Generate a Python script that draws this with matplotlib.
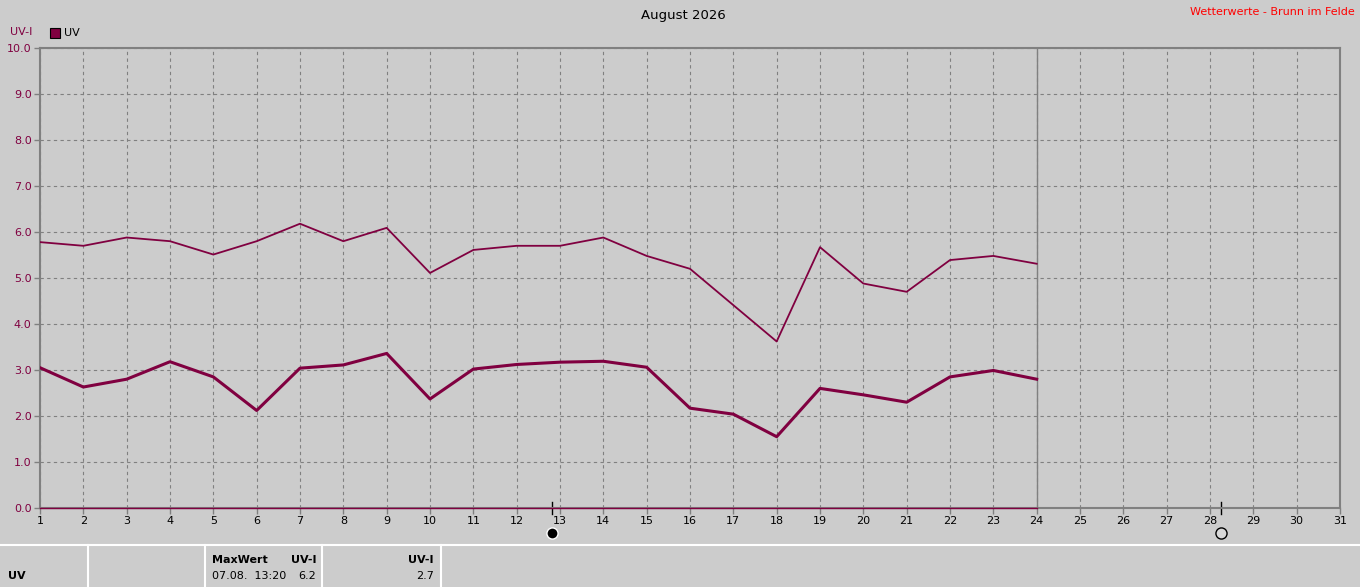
import matplotlib.pyplot as plt
from matplotlib.lines import Line2D
import matplotlib.transforms as mtransforms

# Tageswerte UV-Index August 2026
days = list(range(1, 25))
uv_max = [5.78, 5.70, 5.88, 5.80, 5.51, 5.80, 6.18, 5.80, 6.09, 5.11, 5.61, 5.70,
          5.70, 5.88, 5.48, 5.20, 4.41, 3.62, 5.67, 4.88, 4.70, 5.39, 5.48, 5.31]
uv_avg = [3.05, 2.63, 2.80, 3.18, 2.85, 2.12, 3.04, 3.11, 3.36, 2.37, 3.02, 3.12,
          3.17, 3.19, 3.06, 2.17, 2.04, 1.55, 2.60, 2.46, 2.30, 2.85, 2.99, 2.80]
uv_min = [0.0] * 24
month_days = list(range(1, 32))
y_ticks = [0, 1, 2, 3, 4, 5, 6, 7, 8, 9, 10]
today = 24
new_moon = 12.82
full_moon = 28.26

BG = '#cccccc'
DARKRED = '#800040'
GRAY = '#808080'

W, H = 1360, 587
fig = plt.figure(figsize=(W / 100, H / 100), dpi=100, facecolor=BG)
plt.rcParams['font.family'] = ['DejaVu Sans']

ax = fig.add_axes([40 / W, (H - 508) / H, 1300 / W, 460 / H])
ax.set_facecolor(BG)

ax.plot(days, uv_max, color=DARKRED, lw=1.3, zorder=3)
ax.plot(days, uv_avg, color=DARKRED, lw=2.2, zorder=3)
ax.plot(days, uv_min, color=DARKRED, lw=1.0, zorder=5, clip_on=False)
ax.axvline(today, color=GRAY, lw=1.0, zorder=2)

ax.set_xlim(1, 31)
ax.set_ylim(0, 10)
ax.set_xticks(month_days)
ax.set_xticklabels([str(d) for d in month_days], fontsize=8, color='black')
ax.set_yticks(y_ticks)
ax.set_yticklabels(['%.1f' % v for v in y_ticks], fontsize=8, color=DARKRED)
ax.tick_params(axis='both', direction='out', length=4, width=1, color=GRAY, pad=2)
ax.grid(True, color=GRAY, linestyle=(0, (3, 3)), lw=0.8)
for s in ax.spines.values():
    s.set_color(GRAY)
    s.set_linewidth(1.5)

# Mondphasen unter der Achse
trans = mtransforms.blended_transform_factory(ax.transData, ax.transAxes)
for d, fc in [(new_moon, 'black'), (full_moon, '#d8d8d8')]:
    ax.plot([d, d], [-0.012, 0.012], color='black', lw=1.0, transform=trans, clip_on=False)
    ax.plot([d], [-0.054], marker='o', ms=8, mfc=fc,
            mec='black' if fc != 'black' else 'white', mew=1.0,
            transform=trans, clip_on=False)

# Texte oben
fig.text(683 / W, 1 - 15 / H, 'August 2026', ha='center', va='center', fontsize=9.5)
fig.text(1355 / W, 1 - 12 / H, 'Wetterwerte - Brunn im Felde', ha='right', va='center',
         fontsize=8, color='red')
fig.text(10 / W, 1 - 32 / H, 'UV-I', ha='left', va='center', fontsize=8, color=DARKRED)
fig.patches.append(plt.Rectangle((50 / W, 1 - 38 / H), 10 / W, 10 / H,
                                 transform=fig.transFigure, fc=DARKRED, ec='black', lw=0.8))
fig.text(64 / W, 1 - 33 / H, 'UV', ha='left', va='center', fontsize=8)

# Tabelle unten
fig.add_artist(Line2D([0, 1], [1 - 545 / H, 1 - 545 / H], color='white', lw=1.5,
                      transform=fig.transFigure))
for xp in [88, 205, 322, 441]:
    fig.add_artist(Line2D([xp / W, xp / W], [0, 1 - 545 / H], color='white', lw=1.5,
                          transform=fig.transFigure))

fig.text(8 / W, 1 - 576 / H, 'UV', ha='left', va='center', fontsize=8, weight='bold')
fig.text(212 / W, 1 - 560 / H, 'MaxWert', ha='left', va='center', fontsize=8, weight='bold')
fig.text(316 / W, 1 - 560 / H, 'UV-I', ha='right', va='center', fontsize=8, weight='bold')
fig.text(212 / W, 1 - 576 / H, '07.08.  13:20', ha='left', va='center', fontsize=8)
fig.text(316 / W, 1 - 576 / H, '%.1f' % max(uv_max), ha='right', va='center', fontsize=8)
fig.text(434 / W, 1 - 560 / H, 'UV-I', ha='right', va='center', fontsize=8, weight='bold')
fig.text(434 / W, 1 - 576 / H, '2.7', ha='right', va='center', fontsize=8)

fig.savefig('out.png', dpi=100, facecolor=BG)
